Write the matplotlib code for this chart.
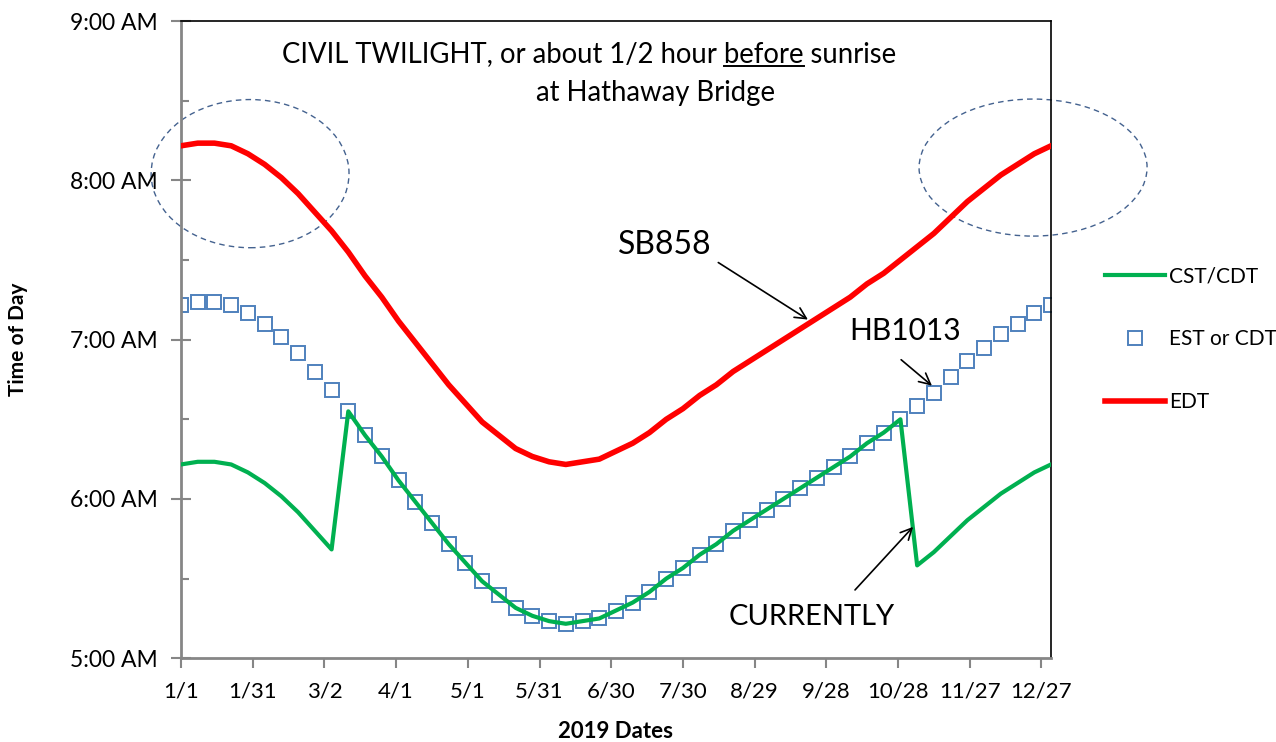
import matplotlib
matplotlib.use('Agg')
import matplotlib.pyplot as plt
import numpy as np
from matplotlib.patches import Ellipse
from matplotlib.ticker import FixedLocator, MultipleLocator, FuncFormatter

plt.rcParams['font.family'] = ['Lato', 'DejaVu Sans']

# day of year (0 = Jan 1), weekly readings
days = list(range(0, 365, 7))

est_or_cdt = ["7:13", "7:14", "7:14", "7:13", "7:10", "7:06", "7:01", "6:55", "6:48", "6:41",
              "6:33", "6:24", "6:16", "6:07", "5:59", "5:51", "5:43", "5:36", "5:29", "5:24",
              "5:19", "5:16", "5:14", "5:13", "5:14", "5:15", "5:18", "5:21", "5:25", "5:30",
              "5:34", "5:39", "5:43", "5:48", "5:52", "5:56", "6:00", "6:04", "6:08", "6:12",
              "6:16", "6:21", "6:25", "6:30", "6:35", "6:40", "6:46", "6:52", "6:57", "7:02",
              "7:06", "7:10", "7:13"]

cst_cdt = ["6:13", "6:14", "6:14", "6:13", "6:10", "6:06", "6:01", "5:55", "5:48", "5:41",
           "6:33", "6:24", "6:16", "6:07", "5:59", "5:51", "5:43", "5:36", "5:29", "5:24",
           "5:19", "5:16", "5:14", "5:13", "5:14", "5:15", "5:18", "5:21", "5:25", "5:30",
           "5:34", "5:39", "5:43", "5:48", "5:52", "5:56", "6:00", "6:04", "6:08", "6:12",
           "6:16", "6:21", "6:25", "6:30", "5:35", "5:40", "5:46", "5:52", "5:57", "6:02",
           "6:06", "6:10", "6:13"]

edt = ["8:13", "8:14", "8:14", "8:13", "8:10", "8:06", "8:01", "7:55", "7:48", "7:41",
       "7:33", "7:24", "7:16", "7:07", "6:59", "6:51", "6:43", "6:36", "6:29", "6:24",
       "6:19", "6:16", "6:14", "6:13", "6:14", "6:15", "6:18", "6:21", "6:25", "6:30",
       "6:34", "6:39", "6:43", "6:48", "6:52", "6:56", "7:00", "7:04", "7:08", "7:12",
       "7:16", "7:21", "7:25", "7:30", "7:35", "7:40", "7:46", "7:52", "7:57", "8:02",
       "8:06", "8:10", "8:13"]

tick_days = [0, 30, 60, 90, 120, 150, 180, 210, 240, 270, 300, 330, 360]
tick_labels = ["1/1", "1/31", "3/2", "4/1", "5/1", "5/31", "6/30", "7/30",
               "8/29", "9/28", "10/28", "11/27", "12/27"]


def to_hours(s):
    h, m = s.split(":")
    return int(h) + int(m) / 60.0


est_h = [to_hours(s) for s in est_or_cdt]
cst_h = [to_hours(s) for s in cst_cdt]
edt_h = [to_hours(s) for s in edt]

fig = plt.figure(figsize=(12.76, 7.42), dpi=100)
ax = fig.add_axes([181 / 1276, 1 - 658.3 / 742, (1051 - 181) / 1276, (658.3 - 21) / 742])

ax.plot(days, est_h, linestyle='none', marker='s', markersize=10.5, markerfacecolor='none',
        markeredgecolor='#4F81BD', markeredgewidth=1.4, label='EST or CDT', zorder=2)
ax.plot(days, cst_h, color='#00B050', lw=3, label='CST/CDT', zorder=3)
ax.plot(days, edt_h, color='#FF0000', lw=4, label='EDT', zorder=4)

ax.set_xlim(0, 364)
ax.set_ylim(5, 9)

ax.xaxis.set_major_locator(FixedLocator(tick_days))
ax.set_xticklabels(tick_labels)
ax.yaxis.set_major_locator(FixedLocator([5, 6, 7, 8, 9]))
ax.yaxis.set_minor_locator(MultipleLocator(0.5))
ax.yaxis.set_major_formatter(FuncFormatter(lambda v, p: "%d:00 AM" % int(round(v))))

ax.tick_params(axis='x', direction='out', length=7, width=1.5, color='#868686',
               labelsize=16, pad=10)
ax.tick_params(axis='y', which='major', direction='inout', length=14, width=1.5,
               color='#868686', labelsize=16.5, pad=10)
ax.tick_params(axis='y', which='minor', direction='in', length=6, width=1.5, color='#868686')

for side in ['left', 'bottom']:
    ax.spines[side].set_color('#868686')
    ax.spines[side].set_linewidth(2)
for side in ['top', 'right']:
    ax.spines[side].set_color('black')
    ax.spines[side].set_linewidth(1.2)

ax.set_xlabel("2019 Dates", fontsize=16, fontweight='bold', labelpad=14)
ax.set_ylabel("Time of Day", fontsize=15, fontweight='bold', labelpad=30)

# dashed ellipses
for cx, cy, w, h in [(28.9, 8.042, 82.8, 0.93), (356.5, 8.08, 95.4, 0.86)]:
    ax.add_patch(Ellipse((cx, cy), w, h, fill=False, edgecolor='#44628F', lw=1,
                         linestyle=(0, (4, 3)), clip_on=False, zorder=1))

# title text inside plot, "before" underlined
fs_title = 19.8
line1 = "CIVIL TWILIGHT, or about 1/2 hour before sunrise"
t1 = fig.text(589.5 / 1276, 1 - 54 / 742, line1, ha='center', va='center', fontsize=fs_title)
fig.text(656 / 1276, 1 - 93 / 742, "at Hathaway Bridge", ha='center', va='center',
         fontsize=fs_title)

fig.canvas.draw()
r = fig.canvas.get_renderer()


def text_w(s):
    tt = fig.text(0, 0, s, fontsize=fs_title)
    w = tt.get_window_extent(r).width
    tt.remove()
    return w


bb = t1.get_window_extent(r)
w_to_before = text_w("CIVIL TWILIGHT, or about 1/2 hour before")
w_before = text_w("before")
x0 = bb.x0 + w_to_before - w_before
x1 = bb.x0 + w_to_before
uy = bb.y0 + 1
fig.add_artist(plt.Line2D([x0 / 1276, x1 / 1276], [uy / 742, uy / 742],
                          color='black', lw=1.4, transform=fig.transFigure))

# annotations with arrows
ap = dict(arrowstyle='->', color='black', lw=1.2, mutation_scale=20, shrinkA=0, shrinkB=0)
ax.text(202.5, 7.591, "SB858", fontsize=23, ha='center', va='center')
ax.annotate("", xy=(262.3, 7.126), xytext=(224.8, 7.484), arrowprops=ap)
ax.text(302.9, 7.057, "HB1013", fontsize=21.5, ha='center', va='center')
ax.annotate("", xy=(314.2, 6.711), xytext=(301.3, 6.874), arrowprops=ap)
ax.text(264.0, 5.259, "CURRENTLY", fontsize=21, ha='center', va='center')
ax.annotate("", xy=(306.3, 5.825), xytext=(282.0, 5.429), arrowprops=ap)

# legend outside on the right
h, l = ax.get_legend_handles_labels()
order = [1, 0, 2]
fig.legend([h[i] for i in order], [l[i] for i in order], loc='upper left',
           bbox_to_anchor=(1090 / 1276, 1 - 252 / 742), frameon=False, fontsize=15,
           handlelength=2.9, handletextpad=0.2, labelspacing=2.05, borderpad=0.2)

fig.savefig('out.png', dpi=100)
